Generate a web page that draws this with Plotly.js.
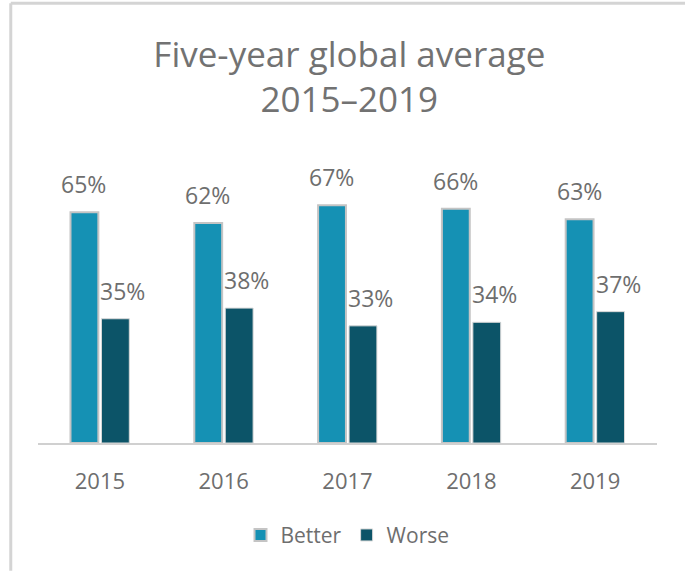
<!DOCTYPE html>
<html>
<head>
<meta charset="utf-8">
<script src="https://cdn.plot.ly/plotly-3.0.1.min.js"></script>
<style>html,body{margin:0;padding:0;background:#fff;}#chart{width:685px;height:571px;}</style>
</head>
<body>
<div id="chart"></div>
<script>
const years = ['2015', '2016', '2017', '2018', '2019'];
const better = [65, 62, 67, 66, 63];
const worse = [35, 38, 33, 34, 37];
const seriesNames = ['Better', 'Worse'];

const FONT = '"Open Sans", "Noto Sans", sans-serif';
const TXT = '#6e6e6e';

const traces = [
  {type: 'bar', name: seriesNames[0], x: years, y: better,
   marker: {color: '#1591b4', line: {color: '#c4c4c4', width: 2}}, hoverinfo: 'skip'},
  {type: 'bar', name: seriesNames[1], x: years, y: worse,
   marker: {color: '#0c5468', line: {color: '#d8d8d8', width: 1}}, hoverinfo: 'skip'}
];

const annotations = [];
years.forEach((yr, i) => {
  annotations.push({x: yr, y: better[i], xref: 'x', yref: 'y', text: better[i] + '%',
    showarrow: false, yanchor: 'bottom', xshift: -16, yshift: 10,
    font: {family: FONT, size: 23, color: TXT}});
  annotations.push({x: yr, y: worse[i], xref: 'x', yref: 'y', text: worse[i] + '%',
    showarrow: false, yanchor: 'bottom', xshift: 23, yshift: 10,
    font: {family: FONT, size: 23, color: TXT}});
});

const layout = {
  width: 685, height: 571,
  margin: {l: 38, r: 28, t: 88, b: 128},
  paper_bgcolor: '#fff', plot_bgcolor: '#fff',
  title: {text: 'Five-year global average<br>2015–2019', x: 0.51, xanchor: 'center',
    yref: 'container', y: 0.883, yanchor: 'middle', font: {family: FONT, size: 35, color: '#727272'}},
  barmode: 'group', bargap: 0.5, bargroupgap: 0.1,
  xaxis: {showline: true, linecolor: '#d0d0d0', linewidth: 2, ticks: '', ticklabelstandoff: 18,
    tickfont: {family: FONT, size: 22, color: TXT}, fixedrange: true},
  yaxis: {range: [0, 100], visible: false, showgrid: false, zeroline: false, fixedrange: true},
  showlegend: true,
  legend: {orientation: 'h', x: 0.5, xanchor: 'center', y: -0.26, yanchor: 'middle',
    font: {family: FONT, size: 21, color: TXT}, itemwidth: 30},
  annotations: annotations,
  shapes: [
    {type: 'line', xref: 'paper', yref: 'paper', x0: -0.044, x1: -0.044, y0: -0.36, y1: 1.239, line: {color: '#d4d4d4', width: 3}},
    {type: 'line', xref: 'paper', yref: 'paper', x0: -0.044, x1: 1.1, y0: 1.239, y1: 1.239, line: {color: '#d4d4d4', width: 3}}
  ]
};

Plotly.newPlot('chart', traces, layout, {displayModeBar: false, staticPlot: true});
</script>
</body>
</html>
